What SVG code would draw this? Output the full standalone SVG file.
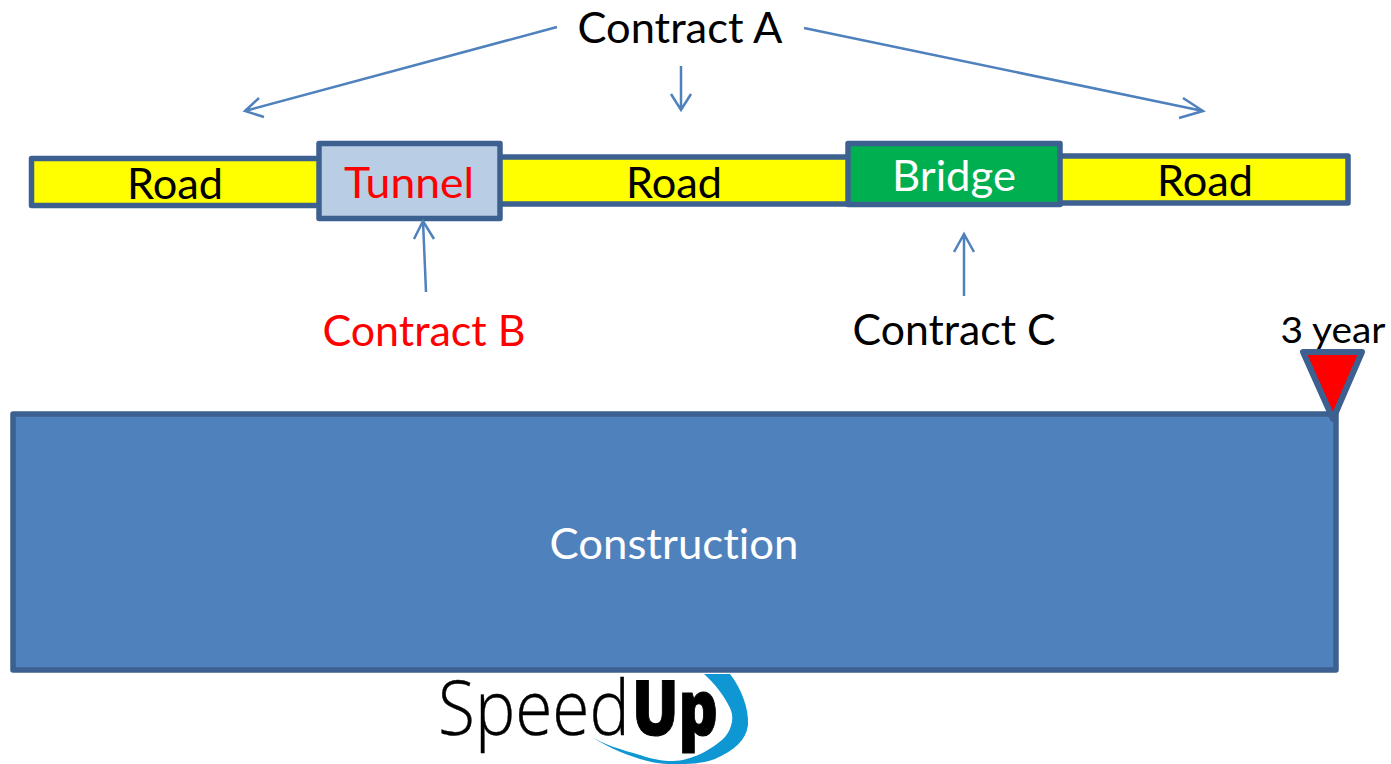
<svg xmlns="http://www.w3.org/2000/svg" width="1391" height="764" viewBox="0 0 1391 764">
<style>
text{font-family:Lato,"Open Sans","Liberation Sans",sans-serif;text-anchor:middle;fill:#000;font-variant-ligatures:none}
.t{font-size:43px}
.box{stroke:#3c608f;stroke-width:5.5;stroke-linejoin:round}
.c{fill:none;stroke:#4f81bd;stroke-width:2.5}
</style>
<rect width="1391" height="764" fill="#fff"/>
<g id="logo">
<path d="M588 735C605 745 622 750 640 755C652 759 662 761 673 761C690 761 712 750 725 737C733 727 734 716 730 708C724 695 714 683 704 674L730 674C741 688 749 708 748 725C746 740 735 750 715 759C700 764 690 764 673 764C660 764 650 762 640 759C620 753 603 744 588 735Z" fill="#0f97d3"/>
<text transform="translate(438 735) scale(.89 1)" style="font-family:'Open Sans',sans-serif;font-size:76px;font-weight:300;text-anchor:start;stroke:#000;stroke-width:.4">Speed</text>
<text transform="translate(632 735) scale(.8 1)" style="font-family:'Open Sans',sans-serif;font-size:77px;font-weight:800;text-anchor:start;stroke:#000;stroke-width:1">Up</text>
</g>
<g id="road1"><rect class="box" x="31.500" y="158.500" width="290" height="47" fill="#ff0"/><text class="t" x="175" y="199" textLength="96" lengthAdjust="spacingAndGlyphs">Road</text></g>
<g id="road2"><rect class="box" x="498" y="157" width="352" height="47" fill="#ff0"/><text class="t" x="674" y="198" textLength="96" lengthAdjust="spacingAndGlyphs">Road</text></g>
<g id="road3"><rect class="box" x="1058" y="156" width="290" height="47" fill="#ff0"/><text class="t" x="1205" y="196" textLength="96" lengthAdjust="spacingAndGlyphs">Road</text></g>
<g id="tunnel"><rect class="box" x="319" y="143.500" width="181" height="75" fill="#b9cde5"/><text class="t" x="409" y="198" style="fill:#f00" textLength="130" lengthAdjust="spacingAndGlyphs">Tunnel</text></g>
<g id="bridge"><rect class="box" x="848" y="143.500" width="212" height="61" fill="#00b050"/><text class="t" x="954" y="191" style="fill:#fff" textLength="124" lengthAdjust="spacingAndGlyphs">Bridge</text></g>
<g id="construction"><rect class="box" x="13" y="414" width="1323" height="256" fill="#4f81bd"/><text class="t" x="674" y="559" style="fill:#fff" textLength="249" lengthAdjust="spacingAndGlyphs">Construction</text></g>
<g id="milestone"><path class="box" d="M1303 352H1362L1333 419Z" fill="#f00" style="stroke-width:6"/><text x="1333" y="343" style="font-size:37px" textLength="105" lengthAdjust="spacingAndGlyphs">3 year</text></g>
<g id="contract-a"><text class="t" x="680" y="43" textLength="205" lengthAdjust="spacingAndGlyphs">Contract A</text></g>
<g id="contract-b"><text class="t" x="424" y="346" style="fill:#f00" textLength="203" lengthAdjust="spacingAndGlyphs">Contract B</text></g>
<g id="contract-c"><text class="t" x="954" y="345" textLength="203" lengthAdjust="spacingAndGlyphs">Contract C</text></g>
<g id="connectors">
<path class="c" d="M557 27L245 111M259 98L245 111L264 117"/>
<path class="c" d="M681 66V110M671 94L681 110L691 94"/>
<path class="c" d="M804 28L1203 111M1183 98L1203 111L1179 118"/>
<path class="c" d="M426 292L423 221M414 239L423 221L434 239"/>
<path class="c" d="M964 296V234M954 252L964 234L974 252"/>
</g>
</svg>
